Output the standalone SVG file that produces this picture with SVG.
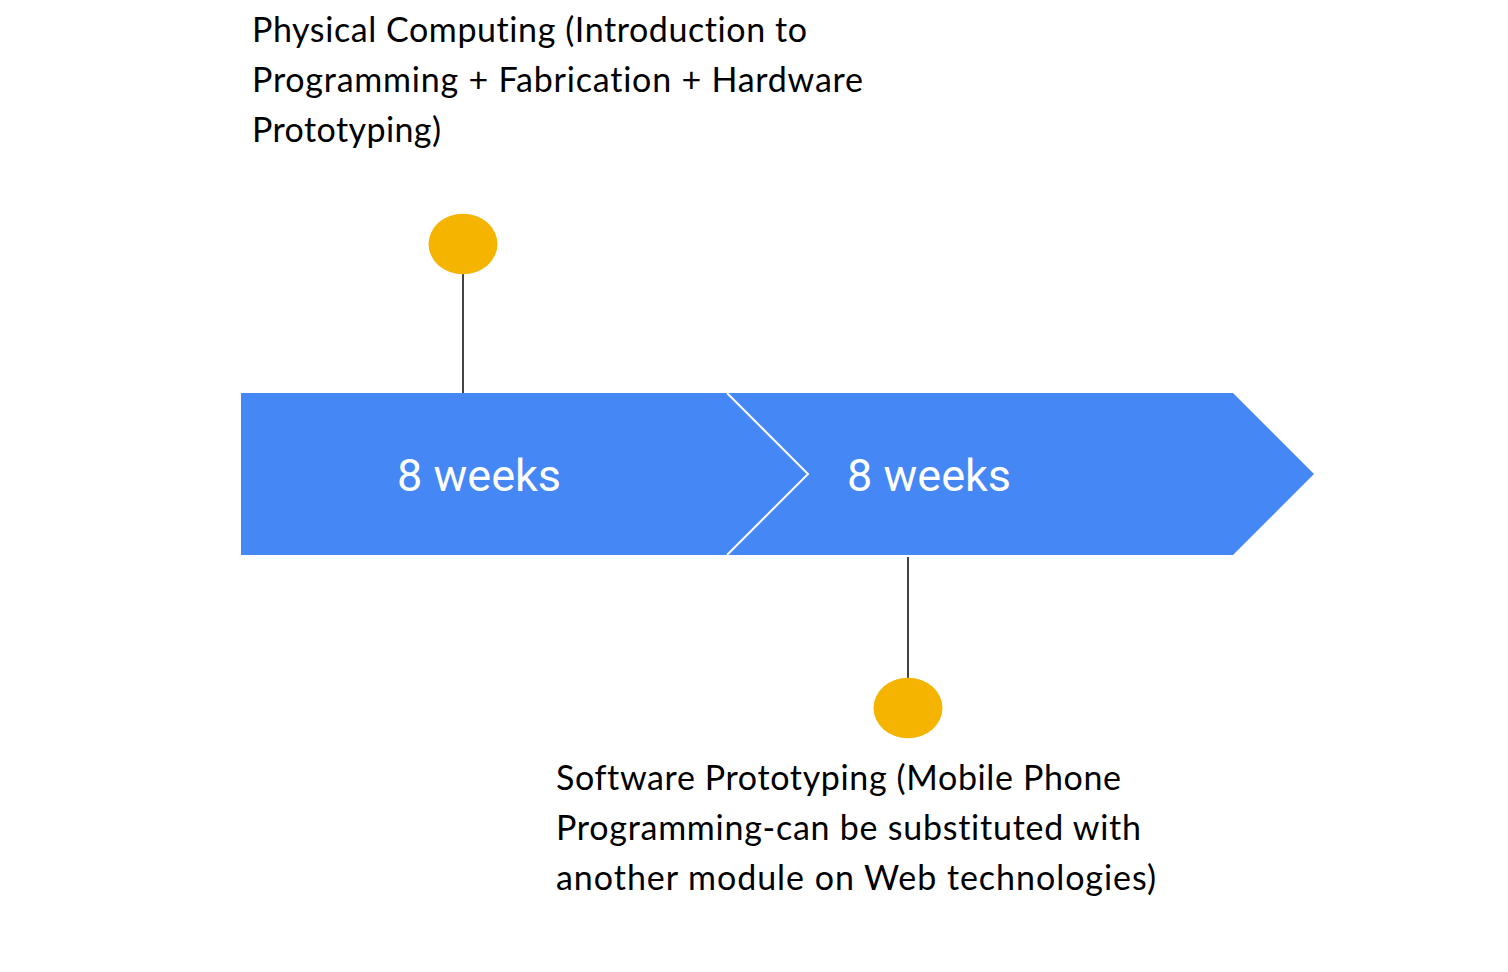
<svg xmlns="http://www.w3.org/2000/svg" width="1508" height="972" viewBox="0 0 1508 972">
<style>
.bar{fill:#4487f5;}
.sep{fill:none;stroke:#ffffff;stroke-width:2;}
.dot{fill:#f4b400;}
.stem{stroke:#434343;stroke-width:2;fill:none;}
.lbl{font-family:Lato,"Open Sans","Liberation Sans",sans-serif;font-size:34px;fill:#000000;font-variant-ligatures:none;}
.wk{font-family:Roboto,"Liberation Sans",sans-serif;font-size:45px;fill:#ffffff;}
</style>
<rect width="1508" height="972" fill="#ffffff"/>
<g id="connectors">
<line class="stem" x1="463" y1="272" x2="463" y2="393"/>
<line class="stem" x1="908" y1="557" x2="908" y2="680"/>
</g>
<g id="stage1">
<polygon class="bar" points="241,393 727,393 808,474 727,555 241,555"/>
<text class="wk" x="397" y="491">8 weeks</text>
</g>
<g id="stage2">
<polygon class="bar" points="727,393 1233,393 1314,474 1233,555 727,555 808,474"/>
<text class="wk" x="847" y="491">8 weeks</text>
</g>
<polyline class="sep" points="727,393 808,474 727,555"/>
<g id="milestone1">
<ellipse class="dot" cx="463" cy="244" rx="34.5" ry="30.3"/>
<text class="lbl" x="252" y="42" textLength="555" lengthAdjust="spacing">Physical Computing (Introduction to</text>
<text class="lbl" x="252" y="92" textLength="611" lengthAdjust="spacing">Programming + Fabrication + Hardware</text>
<text class="lbl" x="252" y="142" textLength="189" lengthAdjust="spacing">Prototyping)</text>
</g>
<g id="milestone2">
<ellipse class="dot" cx="908" cy="708" rx="34.5" ry="30.3"/>
<text class="lbl" x="556" y="790" textLength="565" lengthAdjust="spacing">Software Prototyping (Mobile Phone</text>
<text class="lbl" x="556" y="840" textLength="585" lengthAdjust="spacing">Programming-can be substituted with</text>
<text class="lbl" x="556" y="890" textLength="600" lengthAdjust="spacing">another module on Web technologies)</text>
</g>
</svg>
